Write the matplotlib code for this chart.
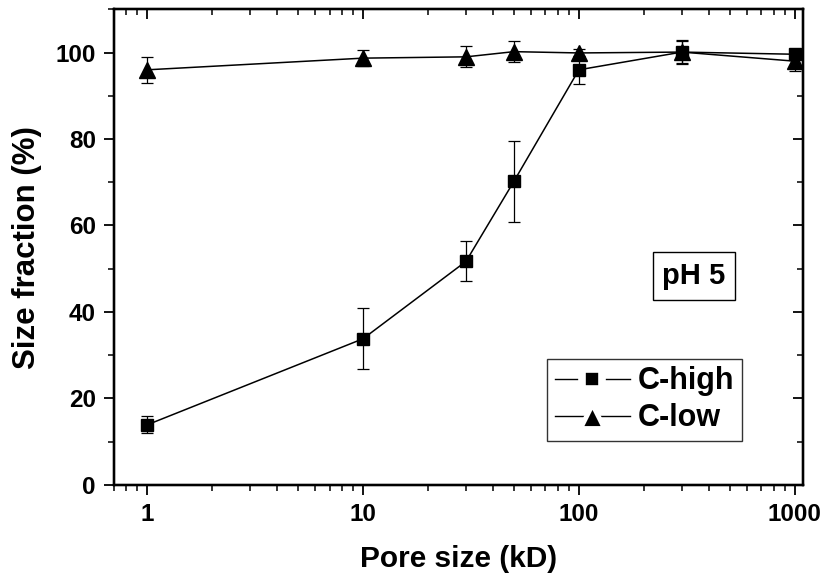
import matplotlib.pyplot as plt
from matplotlib.lines import Line2D
from matplotlib.ticker import MultipleLocator, LogLocator, NullFormatter

plt.rcParams['font.family'] = ['Liberation Sans', 'DejaVu Sans']
plt.rcParams['font.weight'] = 'bold'

# Pore size (kD) and size fraction (%)
pore_size = [1, 10, 30, 50, 100, 300, 1000]
c_high = [13.9, 33.8, 51.7, 70.2, 96.0, 100.1, 99.6]
c_high_err = [2.0, 7.0, 4.6, 9.4, 3.3, 2.6, 1.0]
c_low = [96.0, 98.7, 99.0, 100.2, 99.9, 100.1, 98.0]
c_low_err = [3.0, 1.8, 2.4, 2.4, 1.0, 2.7, 2.3]

x_ticks = [1, 10, 100, 1000]
x_labels = ['1', '10', '100', '1000']
y_ticks = [0, 20, 40, 60, 80, 100]

fig = plt.figure(figsize=(8.25, 5.8), dpi=100)
ax = fig.add_axes([0.138, 0.164, 0.835, 0.820])

ax.errorbar(pore_size, c_high, yerr=c_high_err, color='black', lw=1.1,
            marker='s', ms=8.5, capsize=4, elinewidth=0.9, capthick=0.9)
ax.errorbar(pore_size, c_low, yerr=c_low_err, color='black', lw=1.1,
            marker='^', ms=11, capsize=4, elinewidth=0.9, capthick=0.9)

xlim = (0.7, 1090)
ylim = (0, 110)
ax.set_xscale('log')
ax.set_xlim(xlim)
ax.set_ylim(ylim)
ax.set_xticks(x_ticks)
ax.set_xticklabels(x_labels)
ax.xaxis.set_minor_locator(LogLocator(base=10, subs=range(2, 10)))
ax.xaxis.set_minor_formatter(NullFormatter())
ax.set_yticks(y_ticks)
ax.yaxis.set_minor_locator(MultipleLocator(10))
ax.tick_params(which='major', direction='out', length=7, width=1.3,
               labelsize=17.5, pad=6, top=False, right=False)
ax.tick_params(which='minor', direction='out', length=4, width=1.1,
               top=False, right=False)

# mirrored axes on top and right with inward ticks
top = ax.twiny()
top.set_xscale('log')
top.set_xlim(xlim)
top.set_xticks(x_ticks)
top.xaxis.set_minor_locator(LogLocator(base=10, subs=range(2, 10)))
top.tick_params(which='major', direction='in', length=7, width=1.3, labeltop=False)
top.tick_params(which='minor', direction='in', length=4, width=1.1)
top.xaxis.set_major_formatter(NullFormatter())
top.xaxis.set_minor_formatter(NullFormatter())

right = ax.twinx()
right.set_ylim(ylim)
right.set_yticks(y_ticks)
right.yaxis.set_minor_locator(MultipleLocator(10))
right.tick_params(which='major', direction='in', length=7, width=1.3, labelright=False)
right.tick_params(which='minor', direction='in', length=4, width=1.1)

for a in (ax, top, right):
    for s in a.spines.values():
        s.set_linewidth(1.6)

ax.set_xlabel('Pore size (kD)', fontsize=21.5, fontweight='bold', labelpad=14)
ax.set_ylabel('Size fraction (%)', fontsize=22.5, fontweight='bold', labelpad=10)

# legend handles: line broken around the marker (white marker edge)
handles = [
    Line2D([], [], color='black', lw=1.0, marker='s', ms=14, mfc='black',
           mec='white', mew=5.5),
    Line2D([], [], color='black', lw=1.0, marker='^', ms=17, mfc='black',
           mec='white', mew=3.5),
]
leg = right.legend(handles, ['C-high', 'C-low'], loc='upper left',
                   bbox_to_anchor=(0.629, 0.265), borderaxespad=0,
                   fontsize=22, frameon=True, fancybox=False, edgecolor='black',
                   handlelength=2.45, handletextpad=0.27, borderpad=0.25,
                   labelspacing=0.22, numpoints=1)
leg.get_frame().set_linewidth(1.0)

ax.text(0.842, 0.439, 'pH 5', transform=ax.transAxes, fontsize=21,
        fontweight='bold', ha='center', va='center',
        bbox=dict(boxstyle='square,pad=0.33', fc='white', ec='black', lw=1.0))

fig.savefig('out.png', dpi=100)
